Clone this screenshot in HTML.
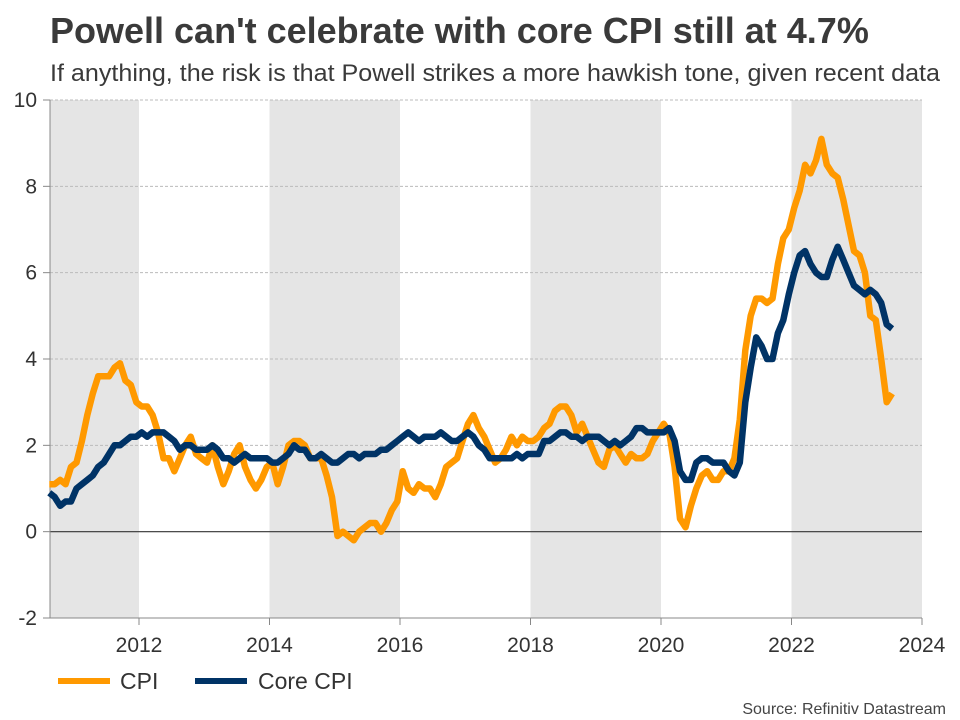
<!DOCTYPE html>
<html><head><meta charset="utf-8"><style>
body{margin:0;background:#fff;font-family:"Liberation Sans",Arial,sans-serif;}
svg{display:block}
</style></head><body>
<svg id="chart" width="960" height="720">
<text x="50" y="43" font-size="36" font-weight="bold" fill="#3a3a3a">Powell can't celebrate with core CPI still at 4.7%</text>
<text x="50" y="81" font-size="24" fill="#3a3a3a" textLength="890" lengthAdjust="spacingAndGlyphs">If anything, the risk is that Powell strikes a more hawkish tone, given recent data</text>
<g id="bands"></g><g id="grid"></g><g id="axes"></g><g id="lines"></g>
<g>
<line x1="58" y1="681" x2="110" y2="681" stroke="#ff9900" stroke-width="6"/>
<text x="120" y="689" font-size="23" fill="#333">CPI</text>
<line x1="195" y1="681" x2="247" y2="681" stroke="#003366" stroke-width="6"/>
<text x="258" y="689" font-size="23" fill="#333">Core CPI</text>
</g>
<text x="946" y="714" font-size="16" fill="#444" text-anchor="end">Source: Refinitiv Datastream</text>
</svg>
<script>
const startYear=2010, startMonth=7;
const cpi=[1.1,1.1,1.2,1.1,1.5,
1.6,2.1,2.7,3.2,3.6,3.6,3.6,3.8,3.9,3.5,3.4,3.0,
2.9,2.9,2.7,2.3,1.7,1.7,1.4,1.7,2.0,2.2,1.8,1.7,
1.6,2.0,1.5,1.1,1.4,1.8,2.0,1.5,1.2,1.0,1.2,1.5,
1.6,1.1,1.5,2.0,2.1,2.1,2.0,1.7,1.7,1.7,1.3,0.8,
-0.1,0.0,-0.1,-0.2,0.0,0.1,0.2,0.2,0.0,0.2,0.5,0.7,
1.4,1.0,0.9,1.1,1.0,1.0,0.8,1.1,1.5,1.6,1.7,2.1,
2.5,2.7,2.4,2.2,1.9,1.6,1.7,1.9,2.2,2.0,2.2,2.1,
2.1,2.2,2.4,2.5,2.8,2.9,2.9,2.7,2.3,2.5,2.2,1.9,
1.6,1.5,1.9,2.0,1.8,1.6,1.8,1.7,1.7,1.8,2.1,2.3,
2.5,2.3,1.5,0.3,0.1,0.6,1.0,1.3,1.4,1.2,1.2,1.4,
1.4,1.7,2.6,4.2,5.0,5.4,5.4,5.3,5.4,6.2,6.8,7.0,
7.5,7.9,8.5,8.3,8.6,9.1,8.5,8.3,8.2,7.7,7.1,6.5,
6.4,6.0,5.0,4.9,4.0,3.0,3.2];
const core=[0.9,0.8,0.6,0.7,0.7,
1.0,1.1,1.2,1.3,1.5,1.6,1.8,2.0,2.0,2.1,2.2,2.2,
2.3,2.2,2.3,2.3,2.3,2.2,2.1,1.9,2.0,2.0,1.9,1.9,
1.9,2.0,1.9,1.7,1.7,1.6,1.7,1.8,1.7,1.7,1.7,1.7,
1.6,1.6,1.7,1.8,2.0,1.9,1.9,1.7,1.7,1.8,1.7,1.6,
1.6,1.7,1.8,1.8,1.7,1.8,1.8,1.8,1.9,1.9,2.0,2.1,
2.2,2.3,2.2,2.1,2.2,2.2,2.2,2.3,2.2,2.1,2.1,2.2,
2.3,2.2,2.0,1.9,1.7,1.7,1.7,1.7,1.7,1.8,1.7,1.8,
1.8,1.8,2.1,2.1,2.2,2.3,2.3,2.2,2.2,2.1,2.2,2.2,
2.2,2.1,2.0,2.1,2.0,2.1,2.2,2.4,2.4,2.3,2.3,2.3,
2.3,2.4,2.1,1.4,1.2,1.2,1.6,1.7,1.7,1.6,1.6,1.6,
1.4,1.3,1.6,3.0,3.8,4.5,4.3,4.0,4.0,4.6,4.9,5.5,
6.0,6.4,6.5,6.2,6.0,5.9,5.9,6.3,6.6,6.3,6.0,5.7,
5.6,5.5,5.6,5.5,5.3,4.8,4.7];
const yTicks=[-2,0,2,4,6,8,10];
const xTicks=[2012,2014,2016,2018,2020,2022,2024];
const bandRanges=[[2010.5,2012],[2014,2016],[2018,2020],[2022,2024]];
const NS="http://www.w3.org/2000/svg";
const L=50,R=922,T=100,B=618;
const X=d=>139+(d-2012)*(R-139)/12;
const Y=v=>T+(10-v)*(B-T)/12;
function mk(tag,attrs,parent){const e=document.createElementNS(NS,tag);for(const k in attrs)e.setAttribute(k,attrs[k]);document.getElementById(parent).appendChild(e);return e;}
bandRanges.forEach(b=>{const a=Math.max(L,X(b[0])),c=Math.min(R,X(b[1]));
const r=mk('rect',{x:a,y:T,width:c-a,height:B-T,fill:'#e5e5e5'},'bands');

});
yTicks.forEach(v=>{if(v!==0&&v!==-2){const g=mk('line',{x1:L,x2:R,y1:Y(v),y2:Y(v),stroke:'#bbb','stroke-dasharray':'3,2'},'grid');

}
const t=mk('line',{x1:L-7,x2:L,y1:Y(v),y2:Y(v),stroke:'#888'},'axes');


const lb=mk('text',{x:37,y:Y(v)+7,'font-size':21,fill:'#333','text-anchor':'end'},'axes');lb.textContent=v;

});
const zl=mk('line',{x1:L,x2:R,y1:Y(0),y2:Y(0),stroke:'#333','stroke-width':1.2},'grid');


const ya=mk('line',{x1:L,x2:L,y1:T,y2:B,stroke:'#888'},'axes');


const xa=mk('line',{x1:L,x2:R,y1:B,y2:B,stroke:'#888'},'axes');


xTicks.forEach(y=>{const t=mk('line',{x1:X(y),x2:X(y),y1:B,y2:B+7,stroke:'#888'},'axes');


const lb=mk('text',{x:X(y),y:652,'font-size':21,fill:'#333','text-anchor':'middle'},'axes');lb.textContent=y;

});
function path(arr){return arr.map((v,i)=>{const d=startYear+(startMonth+i+0.5)/12;return (i?'L':'M')+X(d).toFixed(1)+','+Y(v).toFixed(1);}).join('');}
const p1=mk('path',{d:path(cpi),fill:'none',stroke:'#ff9900','stroke-width':6.5,'stroke-linejoin':'round'},'lines');


const p2=mk('path',{d:path(core),fill:'none',stroke:'#003366','stroke-width':6.5,'stroke-linejoin':'round'},'lines');


</script>
</body></html>
